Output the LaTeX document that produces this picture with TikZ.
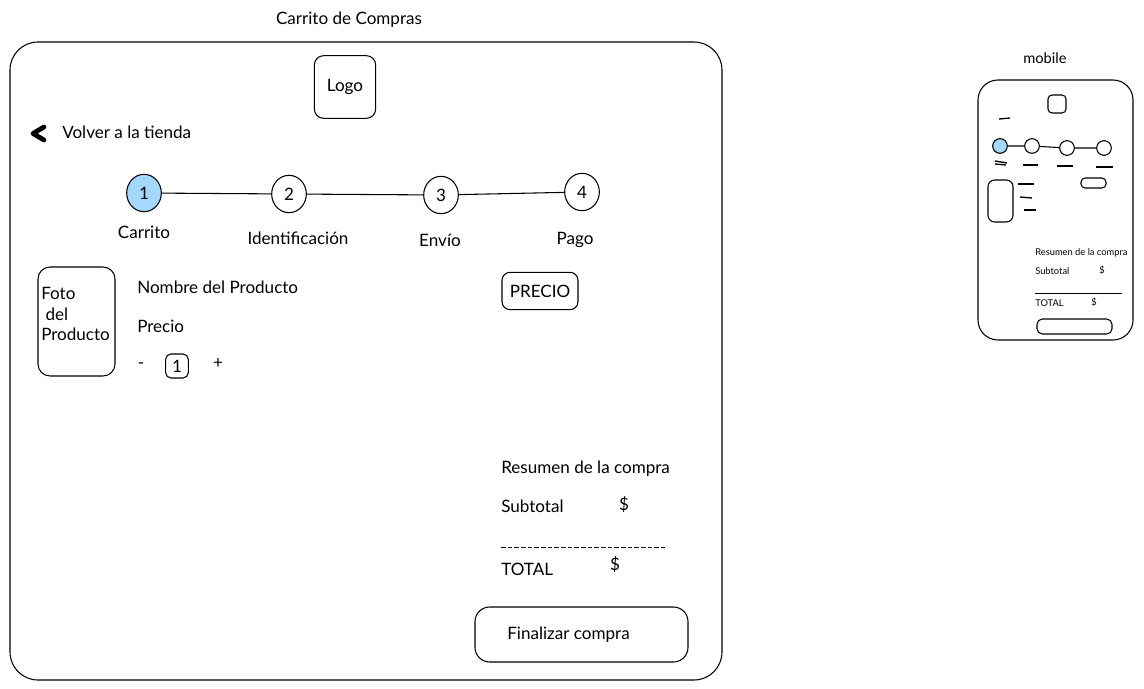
\documentclass[tikz,border=0pt]{standalone}
\usepackage{fontspec}
\setmainfont{Lato}
\usetikzlibrary{positioning,calc,shapes.geometric}

\definecolor{stepblue}{HTML}{A5D8FF}
\tikzset{
    box/.style={draw, rounded corners=#1, line width=0.8pt},
    box/.default=8pt,
    stepcircle/.style={draw, ellipse, line width=0.8pt, minimum width=26pt, minimum height=28pt, inner sep=0pt},
    txt/.style={font=\fontsize{12.8}{15.5}\selectfont, inner sep=0pt},
    tiny/.style={font=\fontsize{7}{8.5}\selectfont, inner sep=0pt},
    dot/.style={draw, circle, line width=0.8pt, minimum size=11pt, inner sep=0pt},
    mini/.style={draw, line width=1pt},
}

\begin{document}
\begin{tikzpicture}[x=0.75pt, y=-0.75pt]
    \useasboundingbox (0,0) rectangle (1144,688);

    % main page
    \node (title) [txt] at (349,20) {Carrito de Compras};
    \draw [box=21pt] (10,42) rectangle (722,680);
    \node (logo) [box=7pt, minimum width=46pt, minimum height=47pt, txt] at (345,87) {Logo};
    \draw [line width=3.6pt, line cap=round, line join=round] (44,127) -- (33,133.5) -- (44,140);
    \node (volver) [txt, anchor=west] at (62,132) {Volver a la tienda};

    % steps
    \node (s1) [stepcircle, fill=stepblue, txt] at (144,193) {1};
    \node (s2) [stepcircle, txt] at (289,194) {2};
    \node (s3) [stepcircle, txt] at (441,195) {3};
    \node (s4) [stepcircle, txt] at (582,192) {4};
    \draw [line width=0.8pt]
        (s1) -- (s2)
        (s2) -- (s3)
        (s3) -- (s4);
    \node (l1) [txt] at (144,232) {Carrito};
    \node (l2) [txt] at (298,238) {Identificación};
    \node (l3) [txt] at (440,240) {Envío};
    \node (l4) [txt] at (575,240) {Pago};

    % product
    \draw [box=9pt] (38,267) rectangle (115,376);
    \node (foto) [txt, anchor=north west, align=left] at (41,287) {Foto\\\ del\\Producto};
    \node (nombre) [txt, anchor=west] at (137,287) {Nombre del Producto};
    \node (precio) [txt, anchor=west] at (137,326) {Precio};
    \node (menos) [txt] at (141,366) {-};
    \node (qty) [box=4pt, minimum width=17pt, minimum height=18pt, txt] at (177,366) {1};
    \node (mas) [txt] at (218,364) {+};
    \node (precioBox) [box=6pt, minimum width=57pt, minimum height=28pt, txt] at (540,291) {PRECIO};

    % summary
    \node (resumen) [txt, anchor=west] at (501,469) {Resumen de la compra};
    \node (subtotal) [txt, anchor=west] at (501,506) {Subtotal};
    \node (subDolar) [txt] at (624,505) {\$};
    \draw [line width=0.6pt, dash pattern=on 3.5pt off 1.5pt] (501,547) -- (665,547);
    \node (total) [txt, anchor=west] at (501,569) {TOTAL};
    \node (totDolar) [txt] at (615,565) {\$};
    \draw [box=11pt] (475,607) rectangle (688,662);
    \node (finalizar) [txt, anchor=west] at (507,635) {Finalizar compra};

    % mobile
    \node (mobile) [txt, font=\fontsize{11}{13}\selectfont] at (1045,58) {mobile};
    \draw [box=15pt] (978,80) rectangle (1133,340);
    \draw [box=3pt] (1048,95) rectangle (1066,113);
    \draw [mini] (999,119) -- (1010,118);
    \node (m1) [dot, fill=stepblue] at (1000,146) {};
    \node (m2) [dot] at (1032,146) {};
    \node (m3) [dot] at (1067,148) {};
    \node (m4) [dot] at (1104,148) {};
    \draw [line width=0.8pt] (m1) -- (m2) (m2) -- (m3) (m3) -- (m4);
    \draw [mini] (995,161) -- (1007,163) (995,164) -- (1006,165);
    \draw [mini] (1023,165) -- (1038,165);
    \draw [mini] (1057,166) -- (1073,166);
    \draw [mini] (1096,167) -- (1113,167);
    \draw [box=3pt] (1081,178) rectangle (1106,188);
    \draw [box=5pt] (988,180) rectangle (1013,222);
    \draw [mini] (1018,184) -- (1034,184);
    \draw [mini] (1020,197) -- (1032,198);
    \draw [mini] (1024,210) -- (1036,210);
    \node (mResumen) [tiny, anchor=west] at (1035,253) {Resumen de la compra};
    \node (mSubtotal) [tiny, anchor=west] at (1035,271) {Subtotal};
    \node (mSubDolar) [tiny] at (1102,270) {\$};
    \draw [line width=0.4pt] (1035,293) -- (1122,293);
    \node (mTotal) [tiny, anchor=west] at (1035,303) {TOTAL};
    \node (mTotDolar) [tiny] at (1094,302) {\$};
    \draw [box=4pt] (1037,319) rectangle (1112,334);
\end{tikzpicture}
\end{document}
